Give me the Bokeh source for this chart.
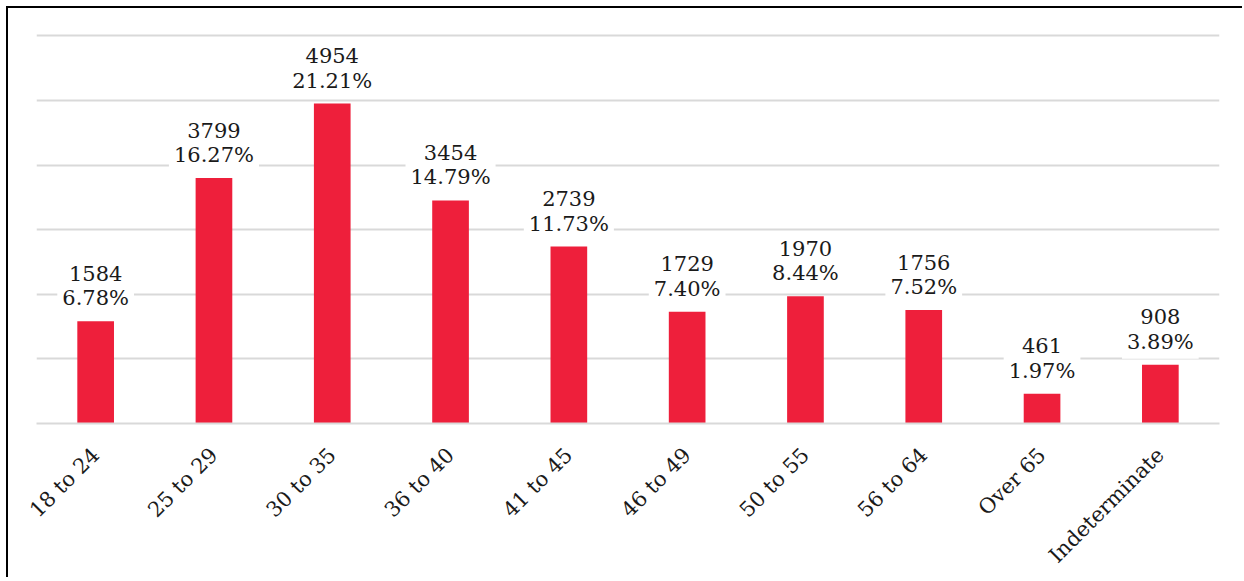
import math
from bokeh.plotting import figure
from bokeh.models import ColumnDataSource, Range1d, FixedTicker
from bokeh.core.properties import value
from bokeh.embed import file_html
from bokeh.resources import INLINE

categories = ["18 to 24", "25 to 29", "30 to 35", "36 to 40", "41 to 45",
              "46 to 49", "50 to 55", "56 to 64", "Over 65", "Indeterminate"]
counts = [1584, 3799, 4954, 3454, 2739, 1729, 1970, 1756, 461, 908]
percents = ["6.78%", "16.27%", "21.21%", "14.79%", "11.73%",
            "7.40%", "8.44%", "7.52%", "1.97%", "3.89%"]

src = ColumnDataSource(dict(cat=categories, val=counts,
                            cnt=[str(c) for c in counts], pct=percents))

FONT = "DejaVu Serif"

p = figure(x_range=categories, y_range=Range1d(0, 6100),
           width=1236, height=571, output_backend="svg", toolbar_location=None,
           min_border_left=28, min_border_right=25, min_border_top=21,
           min_border_bottom=156)
p.styles = {"border-left": "2px solid black", "border-top": "2px solid black",
            "margin-left": "6px", "margin-top": "6px"}
p.outline_line_color = None
p.background_fill_color = "white"

p.vbar(x="cat", top="val", width=0.31, source=src, fill_color="#EE1F3B",
       line_color=None)

common = dict(x="cat", y="val", source=src, text_align="center",
              text_baseline="alphabetic", text_font=value(FONT),
              text_font_size="21px", text_color="#1a1a1a",
              background_fill_color="white", padding=5)
p.text(text="pct", y_offset=-23, **common)
p.text(text="cnt", y_offset=-48, **common)

p.yaxis.visible = False
p.ygrid.ticker = FixedTicker(ticks=[0, 1000, 2000, 3000, 4000, 5000, 6000])
p.ygrid.grid_line_color = "#D9D9D9"
p.ygrid.grid_line_width = 2
p.xgrid.grid_line_color = None

xa = p.xaxis[0]
xa.axis_line_color = "#D9D9D9"
xa.axis_line_width = 2
xa.major_tick_line_color = None
xa.minor_tick_line_color = None
xa.major_label_orientation = math.pi / 4
xa.major_label_text_font = FONT
xa.major_label_text_font_size = "21px"
xa.major_label_text_color = "#1a1a1a"
xa.major_label_standoff = 22

open("out.html", "w").write(file_html(p, INLINE))
